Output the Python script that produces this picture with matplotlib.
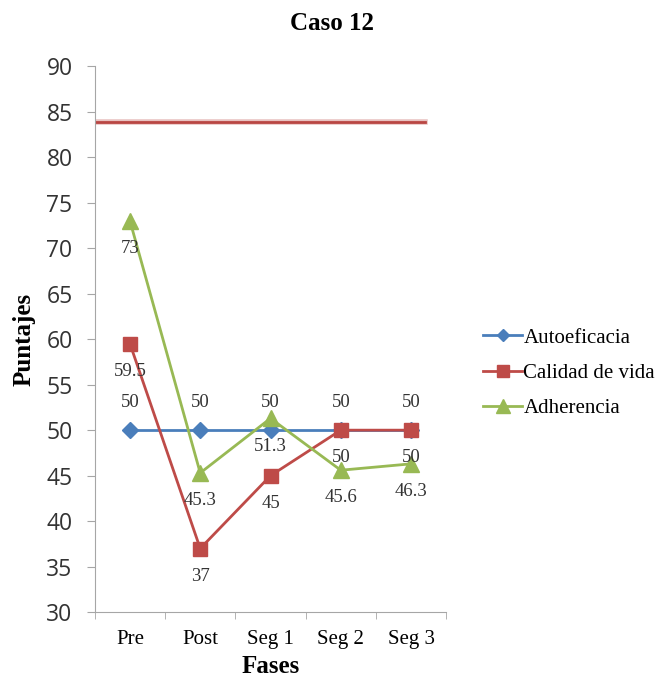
import matplotlib.pyplot as plt
from matplotlib.ticker import FixedLocator

fases = ["Pre", "Post", "Seg 1", "Seg 2", "Seg 3"]
autoeficacia = [50, 50, 50, 50, 50]
calidad_vida = [59.5, 37, 45, 50, 50]
adherencia = [73, 45.3, 51.3, 45.6, 46.3]
punto_corte = 83.8

SERIF = ["Liberation Serif", "DejaVu Serif"]

fig = plt.figure(figsize=(6.63, 6.81), dpi=100)
ax = fig.add_axes([0.143, 0.101, 0.530, 0.802])

x = list(range(len(fases)))

ax.axhline(punto_corte, xmin=0.0, xmax=0.94, color="#C0504D", lw=4, alpha=0.35, zorder=1)
ax.axhline(punto_corte, xmin=0.0, xmax=0.94, color="#B94643", lw=2, zorder=1)

series = [
    ("Autoeficacia", autoeficacia, "#4A7EBB", "D", 8, 1),
    ("Calidad de vida", calidad_vida, "#BE4B48", "s", 10, -1),
    ("Adherencia", adherencia, "#98B954", "^", 12, -1),
]

for name, values, color, marker, size, side in series:
    ax.plot(x, values, color=color, lw=2, marker=marker, markersize=size,
            label=name, zorder=3)
    for xi, value in zip(x, values):
        ax.annotate(f"{value:g}", (xi, value), xytext=(0, 20 * side),
                    textcoords="offset points", ha="center", va="center",
                    fontsize=13.5, family=SERIF, color="#333333", zorder=4)

ax.set_xlim(-0.5, 4.5)
ax.set_ylim(30, 90)
ax.set_yticks(range(30, 91, 5))
ax.set_xticks(x)
ax.set_xticklabels(fases, family=SERIF, fontsize=15)
ax.xaxis.set_minor_locator(FixedLocator([i - 0.5 for i in range(len(fases) + 1)]))
ax.tick_params(axis="x", which="major", length=0, pad=13)
ax.tick_params(axis="x", which="minor", length=5, color="#A6A6A6", direction="out")
ax.tick_params(axis="y", length=6, color="#A6A6A6", labelsize=16.5, pad=10)
for label in ax.get_yticklabels():
    label.set_family(["Open Sans", "DejaVu Sans"])
    label.set_color("#333333")

for side in ["top", "right"]:
    ax.spines[side].set_visible(False)
for side in ["left", "bottom"]:
    ax.spines[side].set_color("#A6A6A6")

ax.set_xlabel("Fases", family=SERIF, fontsize=18, fontweight="bold")
ax.set_ylabel("Puntajes", family=SERIF, fontsize=18, fontweight="bold")
ax.xaxis.set_label_coords(0.5, -0.078)
ax.yaxis.set_label_coords(-0.168, 0.5)
fig.text(0.5, 0.966, "Caso 12", ha="center", va="center", family=SERIF,
         fontsize=18, fontweight="bold")

fig.legend(loc="center left", bbox_to_anchor=(0.700, 0.452), frameon=False,
           prop={"family": SERIF, "size": 15}, handlelength=1.9,
           handletextpad=0.05, labelspacing=0.75, markerscale=0.8)

fig.savefig("out.png", dpi=100)
